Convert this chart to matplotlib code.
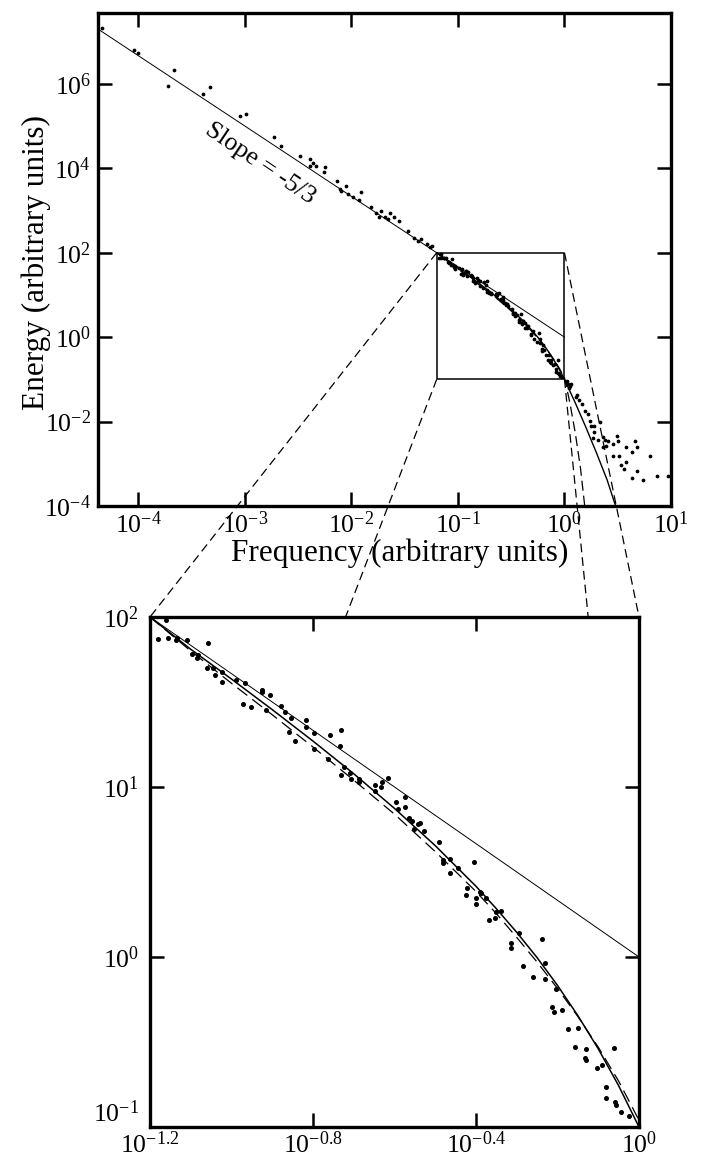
import numpy as np
import matplotlib.pyplot as plt
from matplotlib.lines import Line2D
from matplotlib.ticker import NullLocator

plt.rcParams['font.family'] = ['Liberation Serif', 'DejaVu Serif']
plt.rcParams['mathtext.fontset'] = 'custom'
plt.rcParams['mathtext.rm'] = 'Liberation Serif'
plt.rcParams['mathtext.it'] = 'Liberation Serif:italic'

# all values are log10 (frequency, energy)
# low-frequency points (inertial range)
low_logf = [-4.34, -4.04, -4.00, -3.72, -3.67, -3.39, -3.33, -3.05, -2.99, -2.73,
            -2.66, -2.48, -2.39, -2.36, -2.39, -2.33, -2.25, -2.26, -2.14, -2.11,
            -2.05, -2.03, -1.99, -2.10, -1.91, -1.93, -1.82, -1.77, -1.72, -1.74,
            -1.69, -1.64, -1.66, -1.60, -1.55, -1.47, -1.41, -1.38, -1.35, -1.29,
            -1.26, -1.24]
low_logE = [7.33, 6.80, 6.73, 5.96, 6.33, 5.76, 5.92, 5.25, 5.29, 4.74,
            4.54, 4.30, 4.21, 4.13, 4.05, 4.06, 4.02, 3.91, 3.70, 3.51,
            3.59, 3.38, 3.32, 3.47, 3.43, 3.24, 3.08, 2.95, 3.00, 2.84,
            2.84, 2.95, 2.80, 2.85, 2.75, 2.51, 2.35, 2.28, 2.33, 2.21,
            2.14, 2.17]

# points inside the zoomed window
inset_logf = [-1.180, -1.155, -1.135, -1.133, -1.109, -1.161, -1.096, -1.084, -1.082, -1.057,
              -1.061, -1.045, -1.041, -1.024, -1.024, -0.988, -0.967, -0.973, -0.953, -0.926,
              -0.926, -0.916, -0.906, -0.879, -0.869, -0.859, -0.855, -0.843, -0.818, -0.816,
              -0.798, -0.798, -0.759, -0.762, -0.731, -0.733, -0.724, -0.731, -0.708, -0.706,
              -0.687, -0.687, -0.647, -0.647, -0.630, -0.633, -0.616, -0.596, -0.575, -0.575,
              -0.592, -0.565, -0.558, -0.543, -0.537, -0.551, -0.527, -0.491, -0.482, -0.482,
              -0.464, -0.464, -0.443, -0.406, -0.423, -0.424, -0.400, -0.400, -0.390, -0.388,
              -0.375, -0.369, -0.353, -0.351, -0.339, -0.294, -0.314, -0.313, -0.239, -0.284,
              -0.259, -0.231, -0.231, -0.204, -0.214, -0.208, -0.189, -0.174, -0.149, -0.157,
              -0.131, -0.133, -0.131, -0.104, -0.091, -0.082, -0.082, -0.061, -0.059, -0.056,
              -0.045, -0.024]
inset_logE = [1.869, 1.875, 1.865, 1.878, 1.865, 1.982, 1.781, 1.757, 1.777, 1.845,
              1.698, 1.698, 1.659, 1.616, 1.678, 1.630, 1.614, 1.488, 1.469, 1.571,
              1.557, 1.453, 1.541, 1.478, 1.443, 1.322, 1.404, 1.273, 1.394, 1.355,
              1.320, 1.222, 1.306, 1.165, 1.336, 1.243, 1.120, 1.071, 1.081, 1.045,
              1.045, 1.031, 1.012, 0.979, 1.031, 1.002, 1.051, 0.914, 0.940, 0.884,
              0.869, 0.816, 0.802, 0.781, 0.790, 0.752, 0.742, 0.679, 0.571, 0.552,
              0.575, 0.493, 0.522, 0.557, 0.404, 0.365, 0.346, 0.312, 0.385, 0.375,
              0.346, 0.218, 0.228, 0.263, 0.271, 0.140, 0.081, 0.055, 0.106, -0.050,
              -0.115, -0.036, -0.130, -0.189, -0.292, -0.325, -0.312, -0.423, -0.419, -0.531,
              -0.541, -0.596, -0.606, -0.655, -0.635, -0.762, -0.827, -0.537, -0.850, -0.869,
              -0.909, -0.935]

# high-frequency tail
tail_logf = [0.02, 0.03, 0.04, 0.05, 0.06, 0.11, 0.14, 0.16, 0.12, 0.19,
             0.22, 0.24, 0.25, 0.28, 0.28, 0.33, 0.27, 0.31, 0.36, 0.38,
             0.41, 0.36, 0.39, 0.46, 0.49, 0.50, 0.46, 0.51, 0.58, 0.63,
             0.66, 0.68, 0.58, 0.53, 0.56, 0.68, 0.63, 0.74, 0.80, 0.87, 0.97]
tail_logE = [-1.05, -1.12, -1.20, -1.15, -1.10, -1.42, -1.50, -1.58, -1.38, -1.74,
             -1.82, -1.98, -2.10, -2.10, -2.25, -2.02, -2.40, -2.43, -2.37, -2.43,
             -2.45, -2.61, -2.57, -2.53, -2.35, -2.47, -2.82, -2.82, -2.61, -2.73,
             -2.47, -2.61, -2.95, -3.04, -3.12, -3.16, -3.34, -3.39, -2.81, -3.30, -3.28]

# slope -5/3 reference line
line_logf = [-4.38, 0.0]
line_logE = [7.30, 0.0]

# model curves
solid_logf = [-1.2, -1.1, -1.0, -0.9, -0.8, -0.7, -0.6, -0.5, -0.4, -0.35, -0.3,
              -0.25, -0.2, -0.15, -0.1, -0.05, 0.0, 0.1, 0.2, 0.3, 0.4, 0.48]
solid_logE = [2.0, 1.81, 1.635, 1.455, 1.27, 1.078, 0.874, 0.655, 0.416, 0.284, 0.145,
              -0.004, -0.167, -0.345, -0.54, -0.757, -1.0, -1.55, -2.13, -2.74, -3.38, -4.0]
dashed_logf = [-1.2, -1.1, -1.0, -0.9, -0.8, -0.7, -0.6, -0.5, -0.4, -0.35, -0.3,
               -0.25, -0.2, -0.15, -0.1, -0.05, 0.0, 0.05, 0.1, 0.15, 0.19]
dashed_logE = [2.0, 1.80, 1.61, 1.425, 1.235, 1.04, 0.84, 0.62, 0.385, 0.255, 0.115,
               -0.03, -0.185, -0.35, -0.53, -0.73, -0.96, -1.55, -2.25, -3.1, -4.0]

top_xlim = (-4.38, 1.0)
top_ylim = (-4.0, 7.68)
top_xticks = [-4, -3, -2, -1, 0, 1]
top_yticks = [-4, -2, 0, 2, 4, 6]
zoom_xlim = (-1.2, 0.0)
zoom_ylim = (-1.0, 2.0)
zoom_xticks = [-1.2, -0.8, -0.4, 0]
zoom_yticks = [-1, 0, 1, 2]


def p10(v):
    return 10.0 ** np.asarray(v, dtype=float)


def lab(e):
    s = str(int(e)) if float(e).is_integer() else f"{e:g}"
    return r'$10^{%s}$' % s


def style(a, size):
    a.set_xscale('log')
    a.set_yscale('log')
    for s in a.spines.values():
        s.set_linewidth(2.4)
    a.tick_params(which='major', direction='in', length=10, width=1.8,
                  top=True, right=True, labelsize=size)


fig = plt.figure(figsize=(7.02, 11.65), dpi=100)
ax = fig.add_axes([98 / 702, 1 - 506 / 1165, 573 / 702, 493 / 1165])
axz = fig.add_axes([150 / 702, 1 - 1127 / 1165, 489 / 702, 510 / 1165])

# ---- top panel
style(ax, 18.5)
ax.set_xlim(p10(top_xlim))
ax.set_ylim(p10(top_ylim))
ax.set_xticks(p10(top_xticks), [lab(e) for e in top_xticks])
ax.set_yticks(p10(top_yticks), [lab(e) for e in top_yticks])
ax.xaxis.set_minor_locator(NullLocator())
ax.yaxis.set_minor_locator(NullLocator())
ax.tick_params(axis='x', pad=4)
ax.tick_params(axis='y', pad=5)

ax.plot(p10(line_logf), p10(line_logE), color='k', lw=0.7)
ax.plot(p10(solid_logf), p10(solid_logE), color='k', lw=1.0)
ax.plot(p10(dashed_logf), p10(dashed_logE), color='k', lw=0.9, ls=(0, (8, 4)))
all_f = low_logf + inset_logf + tail_logf
all_E = low_logE + inset_logE + tail_logE
ax.plot(p10(all_f), p10(all_E), ls='none', marker='o', ms=1.7, color='k')

bx = p10([zoom_xlim[0], zoom_xlim[1], zoom_xlim[1], zoom_xlim[0], zoom_xlim[0]])
by = p10([zoom_ylim[1], zoom_ylim[1], zoom_ylim[0], zoom_ylim[0], zoom_ylim[1]])
ax.plot(bx, by, color='k', lw=1.1)

ax.text(10 ** -2.86, 10 ** 4.12, 'Slope = -5/3', fontsize=18.5, rotation=-34,
        ha='center', va='center', rotation_mode='anchor')

ax.set_xlabel('Frequency (arbitrary units)', fontsize=22.5, va='center')
ax.xaxis.set_label_coords((400 - 98) / 573, -(553 - 506) / 493)
ax.set_ylabel('Energy (arbitrary units)', fontsize=22.5, va='center')
ax.yaxis.set_label_coords(-(98 - 36) / 573, (506 - 262) / 493)

# ---- zoomed panel
style(axz, 18.5)
axz.set_xlim(p10(zoom_xlim))
axz.set_ylim(p10(zoom_ylim))
axz.set_xticks(p10(zoom_xticks), [lab(e) for e in zoom_xticks])
axz.set_yticks(p10(zoom_yticks), [lab(e) for e in zoom_yticks])
axz.xaxis.set_minor_locator(NullLocator())
axz.yaxis.set_minor_locator(NullLocator())
axz.tick_params(axis='x', pad=3)
axz.tick_params(axis='y', pad=8)
axz.get_yticklabels()[0].set_verticalalignment('bottom')

axz.plot(p10(line_logf), p10(line_logE), color='k', lw=0.7)
axz.plot(p10(solid_logf), p10(solid_logE), color='k', lw=1.1)
axz.plot(p10(dashed_logf), p10(dashed_logE), color='k', lw=0.9, ls=(0, (10, 5)))
axz.plot(p10(inset_logf), p10(inset_logE), ls='none', marker='o', ms=2.6, color='k')

# ---- connector lines from the box to the zoomed panel
inv = fig.transFigure.inverted()
top_edge = axz.transAxes.transform((0, 1))[1]
corners = [((zoom_xlim[0], zoom_ylim[1]), False),
           ((zoom_xlim[1], zoom_ylim[1]), False),
           ((zoom_xlim[0], zoom_ylim[0]), True),
           ((zoom_xlim[1], zoom_ylim[0]), True)]
for (cx, cy), hidden in corners:
    p0 = ax.transData.transform((10 ** cx, 10 ** cy))
    p1 = axz.transData.transform((10 ** cx, 10 ** cy))
    if hidden:
        t = (p0[1] - top_edge) / (p0[1] - p1[1])
        p1 = p0 + t * (p1 - p0)
    q = inv.transform([p0, p1])
    fig.add_artist(Line2D(q[:, 0], q[:, 1], color='k', lw=0.9, ls=(0, (7, 4))))

fig.savefig('out.png', dpi=100)
